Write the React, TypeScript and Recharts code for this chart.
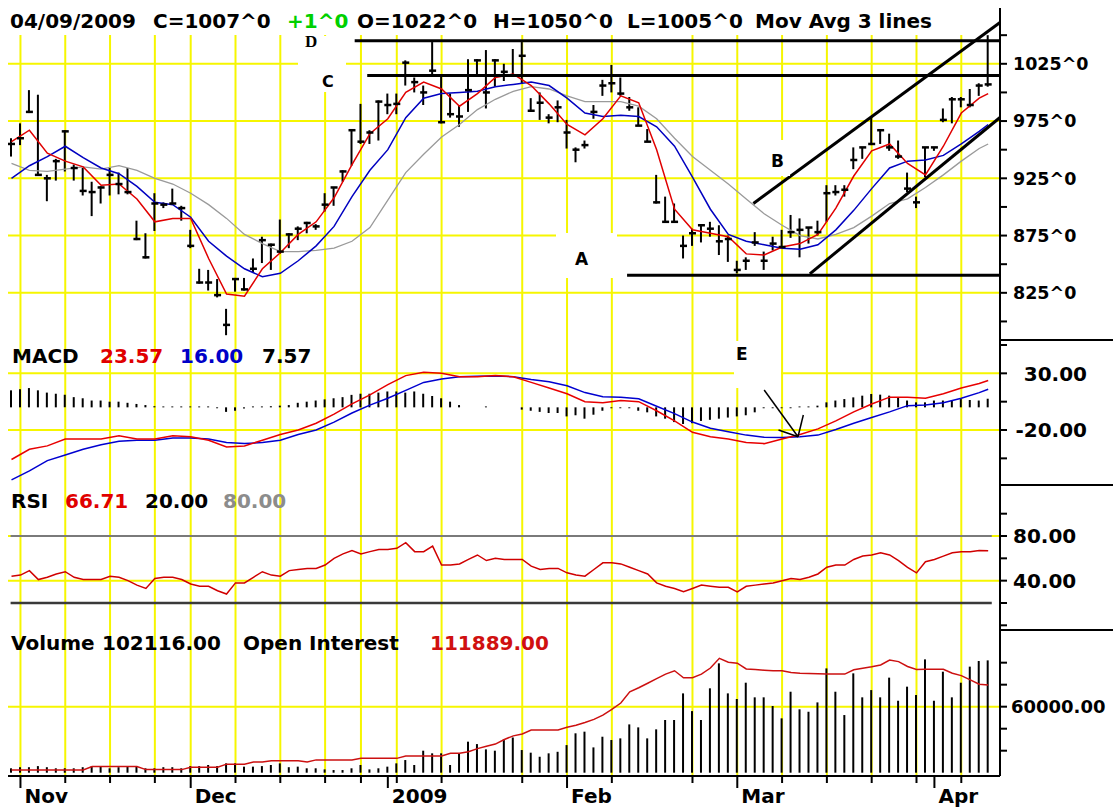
import React from "react";
import {
  ComposedChart,
  Bar,
  Line,
  XAxis,
  YAxis,
  CartesianGrid,
  ReferenceLine,
} from "recharts";

// trading sessions 31 Oct 2008 .. 9 Apr 2009, index 0..109
const highs = [
  960, 973, 1002, 998, 928, 942, 967, 937, 934, 922,
  918, 934, 930, 934, 888, 877, 912, 904, 916, 901,
  880, 846, 845, 837, 811, 838, 838, 855, 874, 868,
  889, 877, 883, 887, 885, 912, 917, 932, 968, 990,
  967, 993, 999, 999, 1028, 1013, 1006, 1044, 1016, 999,
  989, 1029, 1029, 1037, 1029, 1025, 1038, 1044, 995, 1000,
  981, 993, 976, 952, 958, 989, 1011, 1024, 1013, 996,
  987, 968, 928, 909, 903, 875, 881, 884, 887, 884,
  875, 853, 856, 878, 861, 874, 880, 893, 890, 882,
  888, 919, 919, 919, 952, 952, 978, 968, 964, 958,
  930, 909, 952, 952, 986, 996, 996, 1003, 1008, 1050,
];
const lows = [
  944, 954, 982, 928, 905, 923, 931, 923, 910, 892,
  903, 910, 911, 911, 871, 855, 879, 899, 903, 888,
  864, 833, 827, 821, 788, 826, 827, 843, 851, 845,
  859, 864, 871, 877, 880, 896, 901, 922, 936, 955,
  955, 958, 981, 981, 1006, 1000, 989, 1016, 973, 978,
  970, 983, 1016, 986, 1005, 1010, 1015, 1008, 983, 976,
  973, 974, 951, 939, 951, 977, 997, 1000, 997, 984,
  971, 957, 903, 887, 887, 855, 866, 869, 874, 858,
  852, 842, 845, 866, 845, 862, 865, 873, 856, 868,
  875, 887, 910, 909, 933, 942, 954, 955, 949, 942,
  913, 899, 926, 949, 974, 973, 987, 987, 997, 1005,
];
const closes = [
  955, 960, 983, 928, 925, 940, 966, 934, 914, 913,
  917, 928, 920, 913, 872, 856, 903, 902, 903, 899,
  866, 834, 834, 823, 797, 837, 828, 846, 871, 867,
  861, 876, 881, 886, 883, 902, 917, 931, 967, 957,
  965, 992, 989, 990, 1026, 1009, 1000, 1019, 974, 981,
  979, 1002, 1028, 1000, 1028, 1018, 1015, 1032, 984, 991,
  978, 987, 965, 950, 954, 983, 1006, 1008, 999, 987,
  971, 957, 904, 887, 887, 866, 877, 884, 881, 870,
  872, 845, 853, 869, 853, 868, 865, 878, 880, 882,
  878, 912, 913, 915, 941, 952, 955, 967, 952, 944,
  916, 904, 952, 952, 976, 994, 994, 989, 1006, 1007,
];

// moving averages read every second session (0,2,..,108) plus the last one
const maFast = [
  957, 967, 947, 940, 935, 919, 920, 907, 887, 890, 890, 855, 824, 822, 846, 860,
  876, 887, 908, 937, 964, 977, 1000, 1009, 1003, 988, 999, 1013, 1016, 1006, 990,
  972, 963, 977, 997, 991, 950, 898, 880, 877, 874, 859, 858, 865, 868, 876, 899,
  927, 949, 955, 938, 928, 953, 982, 995, 999,
];
const maMid = [
  925, 936, 944, 953, 943, 934, 929, 918, 904, 902, 891, 870, 857, 846, 839, 842,
  853, 866, 883, 909, 932, 950, 978, 995, 999, 1000, 1001, 1005, 1007, 1009, 1006,
  995, 982, 979, 980, 979, 970, 953, 926, 898, 876, 870, 867, 864, 863, 867, 880,
  897, 916, 934, 940, 941, 945, 955, 966, 972,
];
const maSlow = [
  938, 932, 931, 933, 935, 933, 936, 932, 925, 920, 912, 902, 890, 876, 868, 861,
  861, 862, 864, 870, 882, 906, 930, 946, 961, 972, 985, 994, 1001, 1005, 1003,
  997, 992, 992, 992, 988, 977, 960, 944, 932, 920, 907, 894, 884, 875, 872, 876,
  882, 892, 903, 907, 917, 928, 940, 951, 955,
];
const macdVals = [
  -46, -37, -34, -28, -28, -28, -25, -28, -28, -25, -26, -29, -35, -34, -29, -24,
  -20, -14, -6, 3, 11, 20, 28, 31, 30, 27, 27, 28, 27, 22, 17, 12, 5, 4, 6, 5, -3,
  -12, -22, -26, -28, -31, -32, -28, -24, -19, -12, -4, 3, 9, 9, 8, 12, 17, 21, 23.6,
];
const signalVals = [
  -64, -56, -47, -42, -37, -33, -30, -29, -29, -27, -27, -28, -31, -32, -31, -29,
  -24, -20, -13, -5, 2, 8, 15, 22, 25, 27, 27.5, 27.6, 27, 24.5, 22.5, 19, 13, 9.4,
  8.8, 7.5, 1, -5.5, -13, -18.5, -21.5, -24.5, -26.4, -26.7, -26, -24.5, -19.5, -14,
  -9, -4, 1.5, 2.1, 4, 8, 13, 16,
];
const histVals = [
  15, 16, 17, 15, 13, 12, 11, 9, 8, 6,
  6, 5, 5, 4, 3, 2, 1, 0.8, 0.8, 0.8,
  0.8, 0.8, 0.8, -0.8, -4, -3, -1, 0.8, 0.8, 1,
  1.5, 2, 4, 5, 6, 7, 8, 9, 11, 12,
  12, 13, 14, 14, 13, 14, 12, 10, 8, 5,
  2, 0, 0, 0.8, 0, 0, 0, -2, -3, -4,
  -5, -5, -8, -7, -10, -6.5, -3, -0.8, -0.8, -0.8,
  -3, -4.4, -8, -10, -13, -14.7, -14, -12, -11, -10,
  -9, -8, -7, -4.4, -0.8, -0.8, -0.8, -0.8, 0.8, 0.8,
  1.5, 4.4, 6, 7.3, 8.8, 10.3, 11.8, 11.2, 10.3, 8.8,
  6, 4.4, 4.4, 6, 6, 6.5, 7.3, 6.5, 6, 7.6,
];
const rsiVals = [
  44, 45, 49, 41, 43, 46, 48, 43, 41, 41,
  41, 44, 43, 40, 36, 33, 42, 43, 43, 41,
  37, 35, 35, 31, 28, 38, 38, 43, 48, 45,
  44, 49, 50, 51, 51, 54, 60, 64, 67, 64,
  66, 68, 68, 69, 74, 66, 66, 71, 54, 54,
  55, 59, 63, 58, 60, 59, 59, 59, 53, 50,
  51, 51, 47, 45, 44, 50, 56, 56, 55, 52,
  49, 46, 38, 35, 33, 30, 33, 36, 35, 34,
  34, 30, 35, 36, 37, 38, 40, 42, 41, 43,
  46, 52, 54, 54, 59, 62, 63, 65, 63, 58,
  52, 47, 57, 59, 62, 65, 66, 66, 67, 66.7,
];
// thousands of contracts
const volumeK = [
  4, 5, 5, 6, 5, 4, 4, 4, 5, 6,
  6, 4, 5, 6, 6, 4, 4, 5, 5, 4,
  6, 6, 7, 6, 8.5, 8.5, 5.5, 5.5, 6, 7,
  8.5, 5, 5.5, 4, 4, 3, 2.4, 2.4, 4, 7,
  3, 4, 5.5, 8.5, 11.5, 7, 20, 17.6, 17.6, 7,
  17.6, 28.2, 26, 21.2, 20, 30.3, 32, 20.6, 18.2, 14.5,
  17.6, 19, 25.1, 35.8, 37.3, 23, 32.7, 29.7, 31.2, 43.9,
  41.2, 31.2, 39.4, 47.9, 47.9, 72.1, 56, 47.9, 76.7, 99.4,
  72.1, 67, 81.8, 68.5, 68.5, 60.6, 49.4, 73.6, 57.6, 55.4,
  63.9, 94.8, 73.6, 52.4, 90.3, 68.5, 75.1, 68.5, 86.4, 65.4,
  78.2, 70.6, 103, 65.4, 91.8, 68.5, 81.8, 96.4, 101.5, 102.1,
];
const openIntK = [
  84, 84, 84, 84, 84, 84, 84, 84, 84, 85.1,
  85.1, 85.1, 85.1, 85.1, 85.1, 84.1, 84.1, 84.1, 84.1, 84.1,
  84.9, 84.9, 84.9, 84.9, 85.9, 85.9, 85.9, 86.6, 86.6, 87,
  87, 87, 87, 86.6, 87.3, 87.3, 87.3, 87.3, 87.3, 87.8,
  87.8, 87.8, 87.8, 87.8, 88.6, 88.6, 88.6, 88.6, 88.6, 89.5,
  89.5, 90, 91, 91.8, 92.5, 94, 95.2, 95.8, 97.1, 97.1,
  97.1, 97.1, 98, 98.7, 99.6, 100.6, 102, 103.9, 106, 109.7,
  111, 112.5, 114, 115.5, 116.6, 114.3, 114.3, 115.5, 117.5, 120.7,
  119.4, 119.1, 117.2, 117, 116.8, 116.6, 116.6, 116, 115.8, 115.7,
  115.6, 115.5, 115.5, 115.5, 116.9, 117.4, 117.9, 118.5, 120.1, 119.6,
  118, 117, 117.1, 117.1, 117.1, 115.8, 115, 113.6, 112.2, 111.9,
];

// weekly grid (first session of each week) and month starts
const mondayIdx = [1, 6, 11, 16, 20, 25, 30, 35, 39, 43, 48, 57, 62, 67, 76, 81, 86, 91, 96, 101, 106];
const monthIdx = [1, 20, 42, 62, 81, 103];
const monthLabels = ["Nov", "Dec", "2009", "Feb", "Mar", "Apr"];

const priceTicks = [1050, 1025, 1000, 975, 950, 925, 900, 875, 850, 825, 800];
const priceLabels = [1025, 975, 925, 875, 825];

const X_MIN = -0.39;
const X_MAX = 110.32;
const FONT = '"DejaVu Sans", Verdana, sans-serif';
const YELLOW = "#f6f600";

const sparse = (arr: number[], i: number) =>
  i === 109 ? arr[arr.length - 1] : i % 2 === 0 ? arr[i / 2] : null;

const rows = highs.map((h, i) => ({
  i,
  hl: [lows[i], h],
  close: closes[i],
  ma1: sparse(maFast, i),
  ma2: sparse(maMid, i),
  ma3: sparse(maSlow, i),
  macd: sparse(macdVals, i),
  sig: sparse(signalVals, i),
  hist: histVals[i],
  rsi: rsiVals[i],
  vol: volumeK[i],
  oi: openIntK[i],
}));

const xTicks = Array.from(new Set([...mondayIdx, ...monthIdx])).sort((a, b) => a - b);

function axisTick(labels: number[], fmt: (v: number) => string, size: number, end?: number, gap = 13) {
  return (p: any) => {
    const v = p.payload.value;
    const show = labels.includes(v);
    return (
      <g>
        <line x1={p.x} x2={p.x + 7} y1={p.y} y2={p.y} stroke="#000" strokeWidth={2} />
        {show && (
          <text
            x={end ? p.x + end : p.x + gap}
            y={p.y}
            dy="0.36em"
            textAnchor={end ? "end" : "start"}
            fontFamily={FONT}
            fontWeight="bold"
            fontSize={size}
            fill="#000"
          >
            {fmt(v)}
          </text>
        )}
      </g>
    );
  };
}

const DateTick = (p: any) => {
  const k = monthIdx.indexOf(p.payload.value);
  return (
    <g>
      <line x1={p.x} x2={p.x} y1={p.y} y2={p.y + (k >= 0 ? 12 : 7)} stroke="#000" strokeWidth={2} />
      {k >= 0 && (
        <text x={p.x + 4} y={p.y + 27} fontFamily={FONT} fontWeight="bold" fontSize={20} fill="#000">
          {monthLabels[k]}
        </text>
      )}
    </g>
  );
};

const CloseTick = (p: any) => {
  if (p.cx == null || p.cy == null) return <g key={p.index} />;
  return (
    <line key={p.index} x1={p.cx - 3.5} x2={p.cx + 3.5} y1={p.cy} y2={p.cy} stroke="#000" strokeWidth={2.5} />
  );
};

const hiddenX = (
  <XAxis type="number" dataKey="i" domain={[X_MIN, X_MAX]} allowDataOverflow hide interval={0} />
);

const axisLine = { stroke: "#000", strokeWidth: 2 };

function PriceChart() {
  return (
    <ComposedChart width={1113} height={340} data={rows} margin={{ top: 35, right: 0, bottom: 0, left: 8 }}>
      <CartesianGrid stroke={YELLOW} strokeWidth={2} verticalValues={mondayIdx} horizontalValues={priceLabels} />
      {hiddenX}
      <YAxis
        orientation="right"
        width={113}
        domain={[783.8, 1050.15]}
        allowDataOverflow
        ticks={priceTicks}
        interval={0}
        tickSize={0}
        tickMargin={0}
        tickLine={false}
        axisLine={axisLine}
        tick={axisTick(priceLabels, (v) => `${v}^0`, 17.5)}
      />
      <Line dataKey="ma3" stroke="#9a9a9a" strokeWidth={1.3} dot={false} connectNulls isAnimationActive={false} />
      <Line dataKey="ma2" stroke="#0000c0" strokeWidth={1.5} dot={false} connectNulls isAnimationActive={false} />
      <Line dataKey="ma1" stroke="#e00000" strokeWidth={1.5} dot={false} connectNulls isAnimationActive={false} />
      <Bar dataKey="hl" fill="#000" barSize={2} isAnimationActive={false} />
      <Line dataKey="close" stroke="none" dot={CloseTick} activeDot={false} isAnimationActive={false} />
      <ReferenceLine segment={[{ x: 38.3, y: 1045.2 }, { x: X_MAX, y: 1045.2 }]} stroke="#000" strokeWidth={3} ifOverflow="visible" />
      <ReferenceLine segment={[{ x: 39.7, y: 1014.8 }, { x: X_MAX, y: 1014.8 }]} stroke="#000" strokeWidth={3} ifOverflow="visible" />
      <ReferenceLine segment={[{ x: 68.7, y: 840.4 }, { x: X_MAX, y: 840.4 }]} stroke="#000" strokeWidth={3} ifOverflow="visible" />
      <ReferenceLine segment={[{ x: 82.8, y: 903 }, { x: X_MAX, y: 1061 }]} stroke="#000" strokeWidth={3} ifOverflow="visible" />
      <ReferenceLine segment={[{ x: 89.1, y: 841.6 }, { x: X_MAX, y: 978.1 }]} stroke="#000" strokeWidth={3} ifOverflow="visible" />
    </ComposedChart>
  );
}

function MacdChart() {
  return (
    <ComposedChart width={1113} height={145} data={rows} margin={{ top: 0, right: 0, bottom: 0, left: 8 }}>
      <CartesianGrid stroke={YELLOW} strokeWidth={2} verticalValues={mondayIdx} horizontalValues={[30, -20]} />
      {hiddenX}
      <YAxis
        orientation="right"
        width={113}
        domain={[-68.5, 59.4]}
        allowDataOverflow
        ticks={[55, 30, 5, -20, -45]}
        interval={0}
        tickSize={0}
        tickMargin={0}
        tickLine={false}
        axisLine={axisLine}
        tick={axisTick([30, -20], (v) => v.toFixed(2), 20, 87)}
      />
      <Bar dataKey="hist" fill="#000" barSize={2} isAnimationActive={false} />
      <Line dataKey="sig" stroke="#0000d0" strokeWidth={1.5} dot={false} connectNulls isAnimationActive={false} />
      <Line dataKey="macd" stroke="#e80000" strokeWidth={1.5} dot={false} connectNulls isAnimationActive={false} />
      <ReferenceLine segment={[{ x: 84.0, y: 15.3 }, { x: 87.78, y: -25.9 }]} stroke="#000" strokeWidth={1.5} ifOverflow="visible" />
      <ReferenceLine segment={[{ x: 87.78, y: -25.9 }, { x: 85.6, y: -20 }]} stroke="#000" strokeWidth={1.5} ifOverflow="visible" />
      <ReferenceLine segment={[{ x: 87.78, y: -25.9 }, { x: 88.37, y: -6.8 }]} stroke="#000" strokeWidth={1.5} ifOverflow="visible" />
    </ComposedChart>
  );
}

function RsiChart() {
  return (
    <ComposedChart width={1113} height={145} data={rows} margin={{ top: 0, right: 0, bottom: 0, left: 8 }}>
      <CartesianGrid stroke={YELLOW} strokeWidth={2} verticalValues={mondayIdx} horizontalValues={[80, 40]} />
      {hiddenX}
      <YAxis
        orientation="right"
        width={113}
        domain={[-4.2, 125.7]}
        allowDataOverflow
        ticks={[100, 80, 60, 40, 20, 0]}
        interval={0}
        tickSize={0}
        tickMargin={0}
        tickLine={false}
        axisLine={axisLine}
        tick={axisTick([80, 40], (v) => v.toFixed(2), 20)}
      />
      <ReferenceLine segment={[{ x: -0.1, y: 80 }, { x: 109.4, y: 80 }]} stroke="#7a7a7a" strokeWidth={2} />
      <ReferenceLine segment={[{ x: -0.1, y: 20 }, { x: 109.4, y: 20 }]} stroke="#3a3a3a" strokeWidth={2.5} />
      <Line dataKey="rsi" stroke="#d00000" strokeWidth={1.5} dot={false} isAnimationActive={false} />
    </ComposedChart>
  );
}

function VolumeChart() {
  return (
    <ComposedChart width={1113} height={179} data={rows} margin={{ top: 0, right: 0, bottom: 0, left: 8 }}>
      <CartesianGrid stroke={YELLOW} strokeWidth={2} verticalValues={mondayIdx} horizontalValues={[60]} />
      <XAxis
        type="number"
        dataKey="i"
        domain={[X_MIN, X_MAX]}
        allowDataOverflow
        ticks={xTicks}
        interval={0}
        height={33}
        tickSize={0}
        tickMargin={0}
        tickLine={false}
        axisLine={axisLine}
        tick={DateTick}
      />
      <YAxis
        orientation="right"
        width={113}
        domain={[-3, 129.7]}
        allowDataOverflow
        ticks={[20, 40, 60, 80, 100]}
        interval={0}
        tickSize={0}
        tickMargin={0}
        tickLine={false}
        axisLine={axisLine}
        tick={axisTick([60], (v) => (v * 1000).toFixed(2), 18, undefined, 11)}
      />
      <YAxis yAxisId="oi" hide domain={[82, 130]} allowDataOverflow />
      <Bar dataKey="vol" fill="#000" barSize={2} isAnimationActive={false} />
      <Line yAxisId="oi" dataKey="oi" stroke="#cc1010" strokeWidth={1.5} dot={false} isAnimationActive={false} />
    </ComposedChart>
  );
}

const T = (props: any) => (
  <text fontFamily={FONT} fontWeight="bold" fontSize={20} fill="#000" {...props} />
);

export default function App() {
  return (
    <div style={{ position: "absolute", left: 0, top: 0, width: 1113, height: 809, background: "#fff", overflow: "hidden" }}>
      <div style={{ position: "absolute", left: 0, top: 0 }}>
        <PriceChart />
      </div>
      <div style={{ position: "absolute", left: 0, top: 340 }}>
        <MacdChart />
      </div>
      <div style={{ position: "absolute", left: 0, top: 485 }}>
        <RsiChart />
      </div>
      <div style={{ position: "absolute", left: 0, top: 630 }}>
        <VolumeChart />
      </div>
      <svg width={1113} height={809} style={{ position: "absolute", left: 0, top: 0, pointerEvents: "none" }}>
        {/* label boxes */}
        <rect x={298} y={36} width={48} height={56} fill="#fff" />
        <rect x={556} y={233} width={61} height={45} fill="#fff" />
        <rect x={764} y={140} width={26} height={36} fill="#fff" />
        <rect x={734} y={341} width={47} height={47} fill="#fff" />
        <text x={305} y={47} fontFamily='"Liberation Serif", serif' fontWeight="bold" fontSize={17}>D</text>
        <T x={322} y={87} fontSize={16}>C</T>
        <T x={575} y={265} fontSize={17}>A</T>
        <T x={771} y={167} fontSize={17}>B</T>
        <T x={736} y={360} fontSize={17}>E</T>

        {/* axis frame pieces */}
        <line x1={1000} x2={1000} y1={8} y2={36} stroke="#000" strokeWidth={2} />
        <line x1={1000} x2={1113} y1={340} y2={340} stroke="#000" strokeWidth={2} />
        <line x1={1000} x2={1113} y1={485} y2={485} stroke="#000" strokeWidth={2} />
        <line x1={1000} x2={1113} y1={630} y2={630} stroke="#000" strokeWidth={2} />

        {/* header */}
        <T x={10} y={28}>04/09/2009</T>
        <T x={153} y={28}>C=1007^0</T>
        <T x={287} y={28} fill="#00d000">+1^0</T>
        <T x={357} y={28}>O=1022^0</T>
        <T x={493} y={28}>H=1050^0</T>
        <T x={627} y={28}>L=1005^0</T>
        <T x={755} y={28}>Mov Avg 3 lines</T>

        <T x={12} y={363}>MACD</T>
        <T x={100} y={363} fill="#e00000">23.57</T>
        <T x={180} y={363} fill="#0000c8">16.00</T>
        <T x={262} y={363}>7.57</T>

        <T x={11} y={508}>RSI</T>
        <T x={65} y={508} fill="#e00000">66.71</T>
        <T x={145} y={508}>20.00</T>
        <T x={223} y={508} fill="#8c8c8c">80.00</T>

        <T x={11} y={650}>Volume</T>
        <T x={102} y={650}>102116.00</T>
        <T x={243} y={650}>Open Interest</T>
        <T x={430} y={650} fill="#d01010">111889.00</T>
      </svg>
    </div>
  );
}
